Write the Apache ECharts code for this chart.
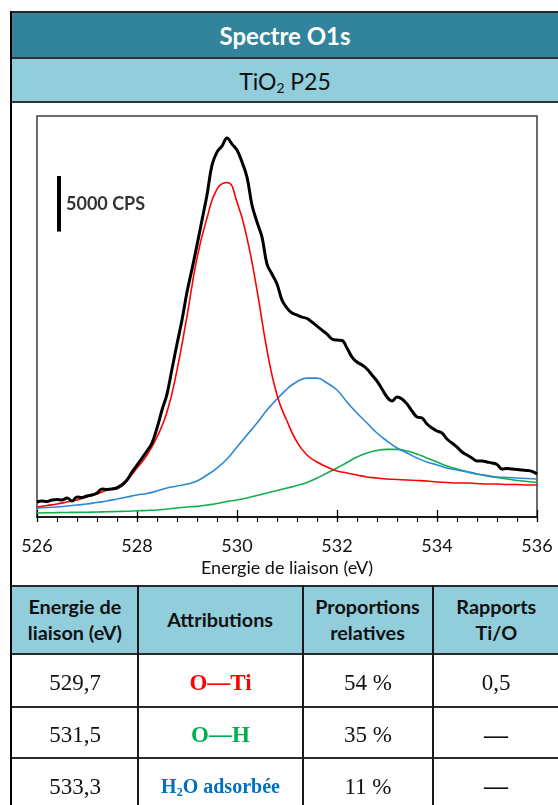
<!DOCTYPE html>
<html>
<head>
<meta charset="utf-8">
<script src="https://cdn.jsdelivr.net/npm/echarts/dist/echarts.min.js"></script>
<style>
  html, body { margin:0; padding:0; background:#fff; }
  body { width:558px; height:805px; overflow:hidden; position:relative; font-family: Lato, "Open Sans", sans-serif; }
  #chart { position:absolute; left:0; top:0; width:558px; height:805px; }
  .abs { position:absolute; box-sizing:border-box; }
  .cell { position:absolute; display:flex; align-items:center; justify-content:center; text-align:center; box-sizing:border-box; }
  .hdr { font-family: Lato, sans-serif; font-weight:700; font-size:18px; line-height:26px; color:#111; }
  .hdr span { display:inline-block; transform:scaleX(1.1); }
  .tbody { font-family: "Liberation Serif", "Times New Roman", serif; font-size:23px; color:#111; padding-top:5px; }
  sub { font-size:0.6em; vertical-align:-0.25em; line-height:0; }
</style>
</head>
<body>
<div id="chart"></div>
<div id="overlay"></div>
<script>
// ---------------- DATA ----------------
const titleText = 'Spectre O1s';
const sampleText = 'TiO<sub>2</sub> P25';
const xAxisTitle = 'Energie de liaison (eV)';
const xTickLabels = ['526', '528', '530', '532', '534', '536'];

// Binding energies (eV) for the fitted components
const fitEnergies = [526.0,526.2,526.4,526.6,526.8,527.0,527.2,527.4,527.6,527.8,
  528.0,528.2,528.4,528.6,528.8,529.0,529.2,529.4,529.6,529.8,
  530.0,530.2,530.4,530.6,530.8,531.0,531.2,531.4,531.6,531.8,
  532.0,532.2,532.4,532.6,532.8,533.0,533.2,533.4,533.6,533.8,
  534.0,534.2,534.4,534.6,534.8,535.0,535.2,535.4,535.6,535.8,536.0];

// O—Ti component (red), CPS
const oTi = [900,1040,1170,1350,1530,1800,2070,2430,2700,3330,
  4410,5580,7200,9450,13230,18090,23310,26910,29520,30110,
  28350,25110,20430,15030,10980,8640,6750,5580,4950,4500,
  4140,3960,3780,3600,3510,3420,3380,3330,3290,3240,
  3150,3110,3060,3060,3020,2970,2970,2930,2930,2880,2880];

// O—H component (blue), CPS
const oH = [810,860,900,990,1080,1170,1310,1440,1620,1800,
  1980,2120,2340,2610,2790,2970,3240,3780,4410,5220,
  6300,7380,8460,9630,10620,11520,12180,12500,12500,12060,
  11430,10350,9360,8460,7560,6840,6210,5760,5310,4950,
  4680,4410,4230,4050,3870,3740,3600,3560,3510,3470,3420];

// H2O adsorbed component (green), CPS
const h2o = [360,380,390,410,420,430,450,470,500,520,
  560,590,630,720,810,900,960,1080,1220,1400,
  1530,1710,1940,2160,2390,2610,2840,3110,3510,3960,
  4410,4910,5400,5760,5990,6090,6090,5940,5670,5310,
  4950,4590,4320,4100,3870,3690,3560,3420,3290,3200,3110];

// Experimental spectrum (black)
const expEnergies = [526.0,526.1,526.2,526.3,526.4,526.5,526.6,526.7,526.8,526.9,
  527.0,527.1,527.2,527.3,527.4,527.5,527.6,527.7,527.8,527.9,
  528.0,528.1,528.2,528.3,528.4,528.5,528.6,528.7,528.8,528.9,
  529.0,529.1,529.2,529.3,529.4,529.5,529.6,529.7,529.8,529.9,
  530.0,530.1,530.2,530.3,530.4,530.5,530.6,530.7,530.8,530.9,
  531.0,531.1,531.2,531.3,531.4,531.5,531.6,531.7,531.8,531.9,
  532.0,532.1,532.2,532.3,532.4,532.5,532.6,532.7,532.8,532.9,
  533.0,533.1,533.2,533.3,533.4,533.5,533.6,533.7,533.8,533.9,
  534.0,534.1,534.2,534.3,534.4,534.5,534.6,534.7,534.8,534.9,
  535.0,535.1,535.2,535.3,535.4,535.5,535.6,535.7,535.8,535.9,536.0];
const expCounts = [1350,1440,1400,1530,1580,1530,1710,1440,1800,1760,
  1890,1980,2160,2520,2480,2520,2610,2880,3330,4050,
  4680,5310,5940,6660,8010,9630,11070,13320,15570,17730,
  20250,22320,24480,26730,28980,31680,32850,33390,34110,33570,
  33030,31950,30600,28080,26550,25200,22770,21870,20970,19530,
  18810,18360,18180,18000,17870,17550,17190,16830,16470,16020,
  15930,15890,15210,14400,13950,13680,13320,12780,12240,11520,
  10800,10440,10800,10620,10170,9540,9000,8910,8370,8010,
  7740,7560,7020,6660,6300,5850,5580,5310,5040,5040,
  4950,4860,4730,4320,4370,4320,4280,4230,4190,4100,3870];

// Scale bar
const scaleBarSize = 5000;
const scaleBarText = '5000 CPS';

// Table
const tableHeaders = [['Energie de', 'liaison (eV)'], ['Attributions'], ['Proportions', 'relatives'], ['Rapports', 'Ti/O']];
const peakEnergies = ['529,7', '531,5', '533,3'];
const attributions = ['O—Ti', 'O—H', 'H<sub>2</sub>O adsorbée'];
const proportions = ['54 %', '35 %', '11 %'];
const ratios = ['0,5', '—', '—'];

// ---------------- LAYOUT / STYLE ----------------
const attrColors = ['#FF0000', '#00B050', '#0070C0'];
const attrSizes = [23, 23, 20];
const scaleBarX = 526.44;
const scaleBarBase = 25700;

const ov = document.getElementById('overlay');
function box(x, y, w, h, bg, html, cls, style) {
  const d = document.createElement('div');
  d.className = cls || 'abs';
  d.style.left = x + 'px'; d.style.top = y + 'px';
  d.style.width = w + 'px'; d.style.height = h + 'px';
  if (bg) d.style.background = bg;
  if (html !== undefined) d.innerHTML = '<span>' + html + '</span>';
  if (style) Object.assign(d.style, style);
  ov.appendChild(d);
  return d;
}
// header bands
box(12, 13, 546, 44, '#31849B', titleText, 'cell', {color:'#fff', fontFamily:'Lato', fontWeight:'700', fontSize:'24px'});
box(12, 59, 546, 42, '#92CDDC', sampleText, 'cell', {color:'#111', fontFamily:'Lato', fontSize:'23px', paddingTop:'2px'});
box(10, 11, 548, 2, '#262626');
box(12, 57, 546, 2, '#333');
box(12, 101, 546, 1.5, '#333');

// table
const cols = [12, 138, 303, 433, 559];
const rows = [586, 654, 707, 758, 810];
box(12, rows[0], 546, rows[1] - rows[0], '#92CDDC');
for (let c = 0; c < 4; c++) {
  box(cols[c], rows[0], cols[c+1] - cols[c], rows[1] - rows[0], null, tableHeaders[c].join('<br>'), 'cell hdr');
}
const bodyCols = [peakEnergies, attributions, proportions, ratios];
for (let r = 0; r < 3; r++) {
  for (let c = 0; c < 4; c++) {
    const st = {};
    if (c === 1) { st.color = attrColors[r]; st.fontWeight = '700'; st.fontSize = attrSizes[r] + 'px'; }
    if (c === 3 && ratios[r] === '—') { st.fontSize = '24px'; st.fontWeight = '700'; }
    box(cols[c], rows[r+1], cols[c+1] - cols[c], rows[r+2] - rows[r+1], null, bodyCols[c][r], 'cell tbody', st);
  }
}
box(12, 585, 546, 2, '#2a2a2a');
for (let r = 1; r < 4; r++) box(12, rows[r] - 1, 546, 2, '#2a2a2a');
for (let c = 1; c < 4; c++) box(cols[c] - 1, 585, 2, 220, '#1a1a1a');
// left frame line
box(10, 11, 2, 794, '#000');

// ---------------- CHART ----------------
const zip = (xs, ys) => xs.map((x, i) => [x, ys[i]]);
const chart = echarts.init(document.getElementById('chart'), null, {renderer: 'canvas'});
const lineSeries = (name, xs, ys, color, width, z, smooth) => ({
  type: 'line', name, data: zip(xs, ys), symbol: 'none', showSymbol: false,
  smooth, lineStyle: {color, width, join: 'round'}, z, silent: true
});
chart.setOption({
  animation: false,
  grid: {left: 37, top: 116, width: 500, height: 401, show: true, borderColor: '#3c3c3c', borderWidth: 1.5,
         backgroundColor: 'rgba(0,0,0,0)', containLabel: false, outerBoundsMode: 'none'},
  xAxis: [{
    type: 'value', min: 526, max: 536, interval: 2, position: 'bottom',
    axisLine: {show: true, onZero: false, lineStyle: {color: '#000', width: 1.5}},
    axisTick: {show: true, inside: false, length: 5, lineStyle: {color: '#000', width: 1.3}},
    minorTick: {show: true, splitNumber: 5, length: 5, lineStyle: {color: '#000', width: 1.1}},
    splitLine: {show: false}, minorSplitLine: {show: false},
    axisLabel: {fontFamily: 'Lato', fontSize: 18, color: '#111', margin: 20,
                formatter: (v) => xTickLabels[Math.round((v - 526) / 2)] || ''},
    name: xAxisTitle, nameLocation: 'middle', nameGap: 42,
    nameTextStyle: {fontFamily: 'Lato', fontSize: 18, color: '#111'}
  }, {
    type: 'value', min: 526, max: 536, interval: 2, position: 'bottom', gridIndex: 0,
    axisLine: {show: false}, axisLabel: {show: false}, splitLine: {show: false},
    axisTick: {show: true, inside: true, length: 7, lineStyle: {color: '#000', width: 1.3}}
  }],
  yAxis: {type: 'value', min: 0, max: 36100, show: false},
  series: [
    lineSeries('H2O adsorbée', fitEnergies, h2o, '#12AE4A', 1.6, 2, 0.5),
    lineSeries('O—H', fitEnergies, oH, '#2A88D8', 1.6, 2, 0.5),
    lineSeries('O—Ti', fitEnergies, oTi, '#FF0000', 1.6, 2, 0.5),
    lineSeries('Spectre', expEnergies, expCounts, '#000', 3, 3, 0.4),
    {type: 'line', data: [[scaleBarX, scaleBarBase], [scaleBarX, scaleBarBase + scaleBarSize]],
     symbol: 'none', lineStyle: {color: '#000', width: 4, cap: 'butt'}, silent: true, z: 4},
    {type: 'scatter', data: [[scaleBarX, scaleBarBase + scaleBarSize / 2]], symbolSize: 0, silent: true, z: 4,
     label: {show: true, position: 'right', distance: 7, formatter: scaleBarText,
             fontFamily: 'Lato', fontWeight: 'bold', fontSize: 18, color: '#000'}}
  ]
});
</script>
</body>
</html>
